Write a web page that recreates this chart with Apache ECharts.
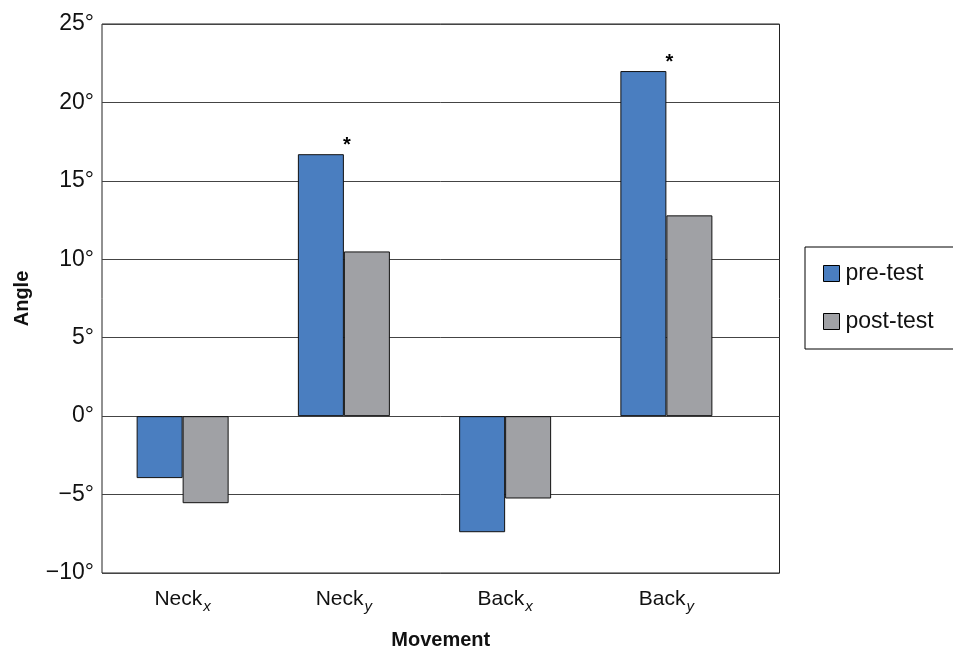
<!DOCTYPE html>
<html>
<head>
<meta charset="utf-8">
<script src="https://cdn.jsdelivr.net/npm/echarts@6/dist/echarts.min.js"></script>
<style>html,body{margin:0;padding:0;background:#fff}#c{width:953px;height:652px}</style>
</head>
<body>
<div id="c"></div>
<script>
var categories = ['Neck{s|x}', 'Neck{s|y}', 'Back{s|x}', 'Back{s|y}'];
var seriesNames = ['pre-test', 'post-test'];
var preTest = [-3.95, 16.7, -7.4, 22.0];
var postTest = [-5.55, 10.5, -5.25, 12.8];
var significant = [false, true, false, true];
var yTicks = [-10, -5, 0, 5, 10, 15, 20, 25];

var FONT = 'Liberation Sans, Arial, sans-serif';
var chart = echarts.init(document.getElementById('c'), null, {renderer: 'canvas'});

function fmtDeg(v) {
  return (v < 0 ? '\u2212' + Math.abs(v) : String(v)) + '\u00B0';
}

var preData = preTest.map(function (v, i) {
  var d = {value: v};
  if (significant[i]) {
    d.label = {show: true, position: 'top', formatter: '*', offset: [26, 6],
      fontSize: 20, fontWeight: 'bold', color: '#000', fontFamily: FONT};
  }
  return d;
});

var option = {
  animation: false,
  backgroundColor: '#fff',
  grid: [
    {left: 102, right: 206, top: 24, bottom: 79, show: false, containLabel: false, outerBoundsMode: 'none'},
    {left: 102, right: 173.5, top: 24, bottom: 79, show: true, borderColor: '#222', borderWidth: 1, backgroundColor: 'transparent', containLabel: false, outerBoundsMode: 'none'}
  ],
  legend: {
    data: seriesNames,
    orient: 'vertical',
    left: 805, top: 247,
    padding: [15, 40, 16, 18],
    itemGap: 25,
    itemWidth: 16, itemHeight: 16,
    borderColor: '#000', borderWidth: 1,
    icon: 'rect',
    textStyle: {fontSize: 23, color: '#111', fontFamily: FONT, padding: [0, 0, 0, 1]},
    itemStyle: {borderColor: '#000', borderWidth: 1}
  },
  xAxis: [
    {
      type: 'category', gridIndex: 0, data: categories,
      axisLine: {show: false}, axisTick: {show: false},
      axisLabel: {
        margin: 12, fontSize: 21, color: '#111', fontFamily: FONT,
        rich: {s: {fontSize: 15, fontStyle: 'italic', color: '#111', fontFamily: FONT, padding: [14, 0, 0, 1]}}
      }
    },
    {
      type: 'value', gridIndex: 1, min: 0, max: 1,
      axisLine: {show: false}, axisTick: {show: false}, axisLabel: {show: false}, splitLine: {show: false},
      name: 'Movement', nameLocation: 'middle', nameGap: 57,
      nameTextStyle: {fontSize: 20, fontWeight: 'bold', color: '#111', fontFamily: FONT}
    }
  ],
  yAxis: [
    {type: 'value', gridIndex: 0, min: -10, max: 25, interval: 5, show: false},
    {
      type: 'value', gridIndex: 1, min: -10, max: 25, interval: 5,
      axisLine: {show: false}, axisTick: {show: false},
      axisLabel: {margin: 8, fontSize: 23, color: '#111', fontFamily: FONT, formatter: fmtDeg},
      splitLine: {show: true, lineStyle: {color: '#444', width: 1}},
      name: 'Angle', nameLocation: 'middle', nameGap: 70, nameRotate: 90,
      nameTextStyle: {fontSize: 20, fontWeight: 'bold', color: '#111', fontFamily: FONT}
    }
  ],
  series: [
    {
      name: seriesNames[0], type: 'bar', xAxisIndex: 0, yAxisIndex: 0,
      data: preData, barWidth: 46, barGap: '0%',
      itemStyle: {color: '#4A7EC0', borderColor: '#111', borderWidth: 1}
    },
    {
      name: seriesNames[1], type: 'bar', xAxisIndex: 0, yAxisIndex: 0,
      data: postTest, barWidth: 46, barGap: '0%',
      itemStyle: {color: '#A0A1A5', borderColor: '#111', borderWidth: 1}
    }
  ]
};
chart.setOption(option);
</script>
</body>
</html>
